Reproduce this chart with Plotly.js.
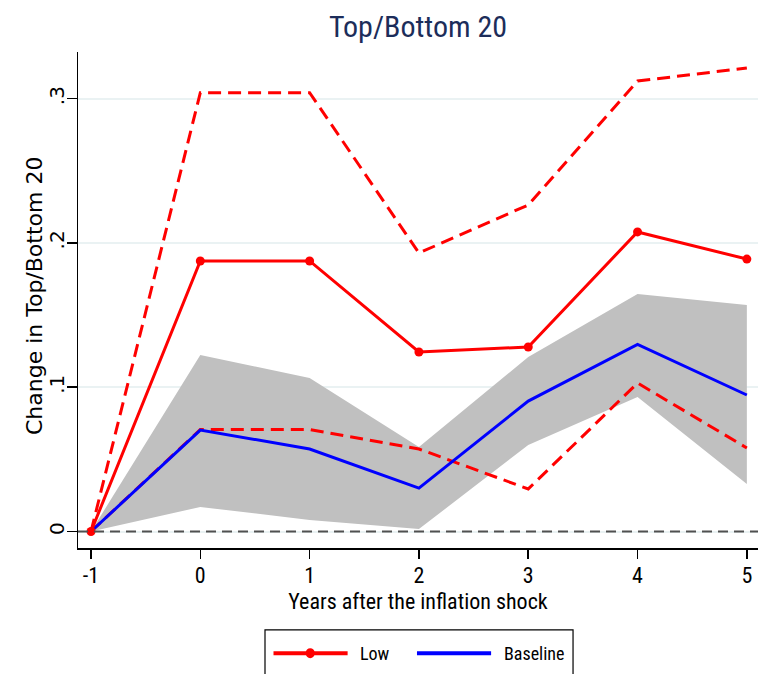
<!DOCTYPE html>
<html>
<head>
<meta charset="utf-8">
<script src="https://cdn.plot.ly/plotly-3.0.1.min.js"></script>
<style>
  html, body { margin: 0; padding: 0; background: #ffffff; }
  #chart { width: 758px; height: 674px; }
</style>
</head>
<body>
<div id="chart"></div>
<script>
// Years relative to the inflation shock
const years = [-1, 0, 1, 2, 3, 4, 5];
const yearLabels = ['-1', '0', '1', '2', '3', '4', '5'];

// "Low" response with its confidence bounds
const low = [0, 0.1875, 0.1875, 0.1244, 0.1279, 0.2076, 0.1888];
const lowUpper = [0, 0.3041, 0.3041, 0.1930, 0.2263, 0.3122, 0.3212];
const lowLower = [0, 0.0707, 0.0707, 0.0572, 0.0295, 0.1029, 0.0579];

// Baseline response with its confidence band
const baseline = [0, 0.0703, 0.0572, 0.0301, 0.0904, 0.1296, 0.0946];
const baseUpper = [0, 0.1223, 0.1064, 0.0586, 0.1209, 0.1646, 0.1570];
const baseLower = [0, 0.0170, 0.0080, 0.0017, 0.0599, 0.0932, 0.0329];

// y-axis ticks
const yTickVals = [0, 0.1, 0.2, 0.3];
const yTickText = ['0', '.1', '.2', '.3'];
const yRange = [-0.01143, 0.3323];

const narrow = 'Liberation Sans Narrow, Arial Narrow, Roboto Condensed, Liberation Sans, sans-serif';
const wide = 'DejaVu Sans, Verdana, sans-serif';
const RED = '#ff0000';
const BLUE = '#0000ff';
const dashRed = '13px,7px';

const traces = [
  { x: years, y: baseLower, type: 'scatter', mode: 'lines',
    line: { width: 0, color: '#c0c0c0' }, hoverinfo: 'skip', showlegend: false },
  { x: years, y: baseUpper, type: 'scatter', mode: 'lines', fill: 'tonexty',
    fillcolor: '#c0c0c0', line: { width: 0, color: '#c0c0c0' }, hoverinfo: 'skip', showlegend: false },
  { x: years, y: lowUpper, type: 'scatter', mode: 'lines',
    line: { color: RED, width: 3, dash: dashRed }, showlegend: false, cliponaxis: false },
  { x: years, y: lowLower, type: 'scatter', mode: 'lines',
    line: { color: RED, width: 3, dash: dashRed }, showlegend: false, cliponaxis: false },
  { x: years, y: baseline, type: 'scatter', mode: 'lines', name: 'Baseline',
    line: { color: BLUE, width: 3 }, showlegend: false, cliponaxis: false },
  { x: years, y: low, type: 'scatter', mode: 'lines+markers', name: 'Low',
    line: { color: RED, width: 3 }, marker: { color: RED, size: 9 },
    showlegend: false, cliponaxis: false }
];

// Legend drawn as a boxed key below the x-axis title (paper coordinates)
const legendY = -0.212;
const shapes = [
  // dashed reference line at zero
  { type: 'line', xref: 'paper', yref: 'y', x0: 0, x1: 1, y0: 0, y1: 0,
    line: { color: '#505050', width: 2, dash: '10px,6px' }, layer: 'above' },
  { type: 'rect', xref: 'paper', yref: 'paper', x0: 0.275, x1: 0.728, y0: -0.30, y1: -0.165,
    line: { color: '#000000', width: 1.2 }, fillcolor: 'rgba(0,0,0,0)' },
  { type: 'line', xref: 'paper', yref: 'paper', x0: 0.2875, x1: 0.3965, y0: legendY, y1: legendY,
    line: { color: RED, width: 4 } },
  { type: 'circle', xref: 'paper', yref: 'paper', xsizemode: 'pixel', ysizemode: 'pixel',
    xanchor: 0.3415, yanchor: legendY, x0: -4.5, x1: 4.5, y0: -5, y1: 5,
    fillcolor: RED, line: { color: RED, width: 0 } },
  { type: 'line', xref: 'paper', yref: 'paper', x0: 0.4985, x1: 0.6075, y0: legendY, y1: legendY,
    line: { color: BLUE, width: 4 } }
];

const annotations = [
  { xref: 'paper', yref: 'paper', x: 0.412, y: legendY, xanchor: 'left', yanchor: 'middle',
    text: 'Low', showarrow: false, font: { family: narrow, size: 18, color: '#000000' } },
  { xref: 'paper', yref: 'paper', x: 0.624, y: legendY, xanchor: 'left', yanchor: 'middle',
    text: 'Baseline', showarrow: false, font: { family: narrow, size: 18, color: '#000000' } },
  // y-axis title
  { xref: 'paper', yref: 'paper', x: -0.0647, y: 0.508, xanchor: 'center', yanchor: 'middle',
    textangle: -90, text: 'Change in Top/Bottom 20', showarrow: false,
    font: { family: wide, size: 22, color: '#000000' } }
];

const layout = {
  width: 758, height: 674,
  margin: { l: 78, r: 0, t: 52, b: 126 },
  paper_bgcolor: '#ffffff', plot_bgcolor: '#ffffff',
  showlegend: false,
  title: { text: 'Top/Bottom 20', x: 0.5, xref: 'paper', xanchor: 'center',
    y: 0.96, yref: 'container', yanchor: 'middle',
    font: { family: narrow, size: 30, color: '#1c2d5a' } },
  xaxis: {
    range: [-1.119, 5.102], tickvals: years, ticktext: yearLabels,
    showgrid: false, zeroline: false,
    showline: true, linecolor: '#000000', linewidth: 1.5,
    ticks: 'outside', ticklen: 9, tickwidth: 1.5, tickcolor: '#000000',
    ticklabelstandoff: -2,
    tickfont: { family: narrow, size: 22, color: '#000000' },
    title: { text: 'Years after the inflation shock', standoff: 6,
      font: { family: narrow, size: 22, color: '#000000' } }
  },
  yaxis: {
    range: yRange, tickvals: yTickVals, ticktext: yTickText,
    tickangle: -90,
    showgrid: true, gridcolor: '#eaf2f3', gridwidth: 2, zeroline: false,
    showline: true, linecolor: '#000000', linewidth: 1.5,
    ticks: 'outside', ticklen: 10, tickwidth: 1.5, tickcolor: '#000000',
    ticklabelstandoff: -5,
    tickfont: { family: wide, size: 20, color: '#000000' }
  },
  shapes: shapes,
  annotations: annotations
};

Plotly.newPlot('chart', traces, layout, { displayModeBar: false, staticPlot: true });
</script>
</body>
</html>
